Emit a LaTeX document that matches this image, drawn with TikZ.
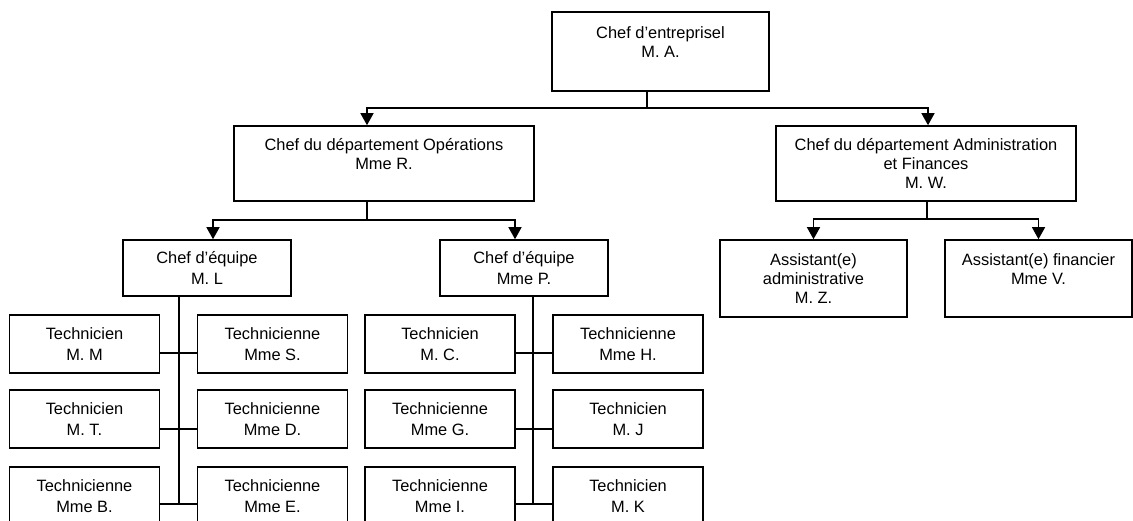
\documentclass[tikz,border=0pt]{standalone}
\usepackage{fontspec}
\setmainfont{Liberation Sans}
\usetikzlibrary{calc,positioning,arrows.meta}

\begin{document}
\begin{tikzpicture}[x=0.5pt, y=-0.5pt, >={Triangle[length=6pt,width=6.5pt]},
      every node/.style={font=\fontsize{8.2}{9.4}\selectfont},
      orgbox/.style={draw=black, line width=0.8pt, align=center, inner sep=0pt, fill=white},
      chief/.style={orgbox, minimum width=108.5pt, minimum height=39.5pt},
      dept/.style={orgbox, minimum width=150pt, minimum height=37.5pt},
      team/.style={orgbox, minimum width=84pt, minimum height=28pt, font=\fontsize{8.2}{10.4}\selectfont},
      asst/.style={orgbox, minimum width=93.5pt, minimum height=38.5pt},
      tech/.style={orgbox, minimum width=75pt, minimum height=29pt, font=\fontsize{8.2}{10.6}\selectfont},
      link/.style={draw=black, line width=0.7pt}]
      \useasboundingbox (0,0) rectangle (1133,520);
      \clip (0,0) rectangle (1133,520);
      % top level
      \node (ceo) at (660.5,51.5) [chief] {Chef d'entreprisel\\M. A.\\\mbox{}};
      \node (ops) at (384,163.5) [dept] {Chef du département Opérations\\Mme R.\\\mbox{}};
      \node (adm) at (926,163.5) [dept] {Chef du département Administration\\et Finances\\M. W.};
      \coordinate (ceoJ) at (647,108);
      \coordinate (opsIn) at (367,108);
      \coordinate (admIn) at (928,108);
      \draw[link] (ceo.south -| ceoJ) -- (ceoJ);
      \draw[link,->] (ceoJ) -- (opsIn) -- (opsIn |- ops.north);
      \draw[link,->] (ceoJ) -- (admIn) -- (admIn |- adm.north);
      % operations
      \node (teamL) at (207,268) [team] {Chef d'équipe\\M. L};
      \node (teamP) at (524,268) [team] {Chef d'équipe\\Mme P.};
      \coordinate (opsJ) at (367,220);
      \coordinate (teamLIn) at (213,220);
      \coordinate (teamPIn) at (515,220);
      \draw[link] (ops.south -| opsJ) -- (opsJ);
      \draw[link,->] (opsJ) -- (teamLIn) -- (teamLIn |- teamL.north);
      \draw[link,->] (opsJ) -- (teamPIn) -- (teamPIn |- teamP.north);
      % administration
      \node (asstA) at (813.5,278.5) [asst] {Assistant(e)\\administrative\\M. Z.};
      \node (asstF) at (1038.5,278.5) [asst] {Assistant(e) financier\\Mme V.\\\mbox{}};
      \coordinate (admJ) at (927,219);
      \draw[link] (adm.south -| admJ) -- (admJ);
      \draw[link,->] (admJ) -| (asstA.north);
      \draw[link,->] (admJ) -| (asstF.north);
      % team L
      \node (lt1) at (84.5,344) [tech] {Technicien\\M. M};
      \node (lt2) at (272.5,344) [tech] {Technicienne\\Mme S.};
      \node (lt3) at (84.5,419) [tech] {Technicien\\M. T.};
      \node (lt4) at (272.5,419) [tech] {Technicienne\\Mme D.};
      \node (lt5) at (84.5,496) [tech] {Technicienne\\Mme B.};
      \node (lt6) at (272.5,496) [tech] {Technicienne\\Mme E.};
      \coordinate (spineL) at (179,504);
      \draw[link] (teamL.south -| spineL) -- (spineL);
      \draw[link] ([yshift=-4.5pt]lt1.east) -- ([yshift=-4.5pt]lt2.west);
      \draw[link] ([yshift=-5pt]lt3.east) -- ([yshift=-5pt]lt4.west);
      \draw[link] ([yshift=-4pt]lt5.east) -- ([yshift=-4pt]lt6.west);
      % team P
      \node (pt1) at (440,344) [tech] {Technicien\\M. C.};
      \node (pt2) at (628,344) [tech] {Technicienne\\Mme H.};
      \node (pt3) at (440,419) [tech] {Technicienne\\Mme G.};
      \node (pt4) at (628,419) [tech] {Technicien\\M. J};
      \node (pt5) at (440,496) [tech] {Technicienne\\Mme I.};
      \node (pt6) at (628,496) [tech] {Technicien\\M. K};
      \coordinate (spineP) at (533,504);
      \draw[link] (teamP.south -| spineP) -- (spineP);
      \draw[link] ([yshift=-4.5pt]pt1.east) -- ([yshift=-4.5pt]pt2.west);
      \draw[link] ([yshift=-5pt]pt3.east) -- ([yshift=-5pt]pt4.west);
      \draw[link] ([yshift=-4pt]pt5.east) -- ([yshift=-4pt]pt6.west);
  \end{tikzpicture}
\end{document}
